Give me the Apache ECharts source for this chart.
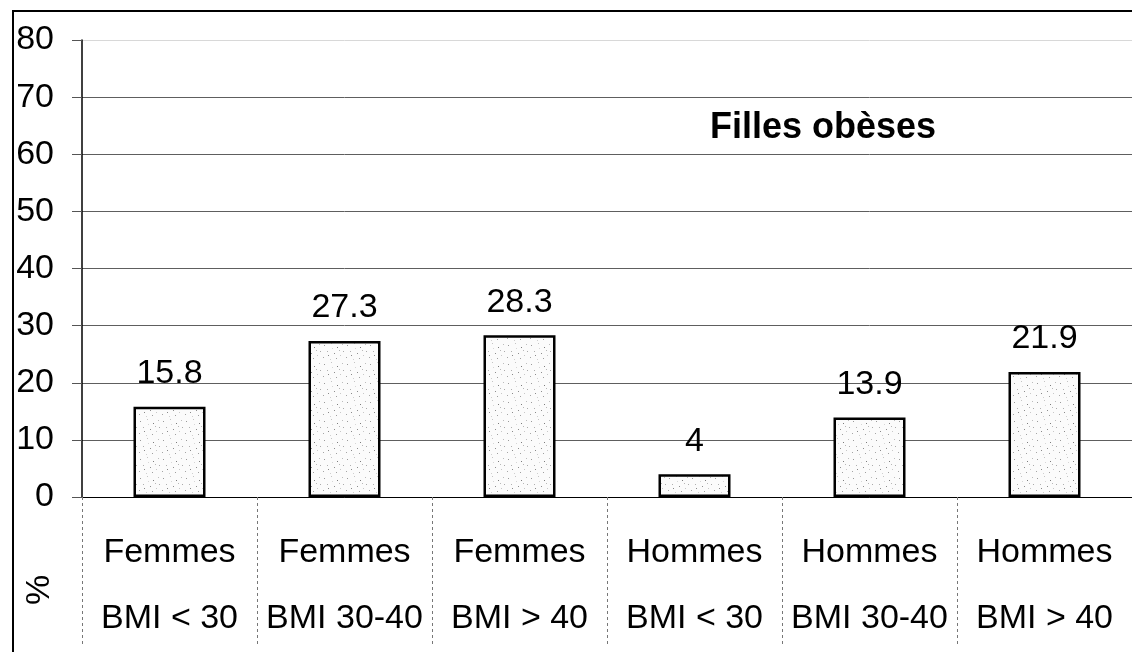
<!DOCTYPE html>
<html>
<head>
<meta charset="utf-8">
<title>Filles obèses</title>
<script src="https://cdn.jsdelivr.net/npm/echarts@6/dist/echarts.min.js"></script>
<style>
  html, body { margin: 0; padding: 0; background: #fff; }
  #chart { width: 1132px; height: 652px; }
</style>
</head>
<body>
<div id="chart"></div>
<script>
// Groups and BMI classes shown on the two lines of each category label
const groups = ['Femmes', 'Femmes', 'Femmes', 'Hommes', 'Hommes', 'Hommes'];
const bmiClasses = ['BMI < 30', 'BMI 30-40', 'BMI > 40', 'BMI < 30', 'BMI 30-40', 'BMI > 40'];
// Percentages per group
const percentages = [15.8, 27.3, 28.3, 4, 13.9, 21.9];
// Value axis ticks
const yTicks = [0, 10, 20, 30, 40, 50, 60, 70, 80];
const titleText = 'Filles obèses';
const unitText = '%';

const categories = groups.map((g, i) => g + '\n' + bmiClasses[i]);

const FONT = '"Liberation Sans", Arial, sans-serif';

// Stippled fill for the bars: a small tile with a few grey specks
function stippleTile() {
  const c = document.createElement('canvas');
  c.width = 23; c.height = 19;
  const ctx = c.getContext('2d');
  ctx.fillStyle = '#fbfbfb';
  ctx.fillRect(0, 0, c.width, c.height);
  const specks = [
    [2, 3, '#9a9a9a'], [9, 1, '#c4c4c4'], [15, 5, '#7d7d7d'], [20, 2, '#bdbdbd'],
    [5, 9, '#b0b0b0'], [12, 11, '#8e8e8e'], [18, 13, '#c8c8c8'], [1, 15, '#a6a6a6'],
    [8, 17, '#d0d0d0'], [14, 16, '#9f9f9f'], [21, 9, '#aaaaaa'], [10, 6, '#d6d6d6'],
    [6, 13, '#8a8a8a'], [17, 8, '#b8b8b8']
  ];
  specks.forEach(([x, y, col]) => { ctx.fillStyle = col; ctx.fillRect(x, y, 1, 1); });
  return c;
}

const chart = echarts.init(document.getElementById('chart'), null, { renderer: 'canvas' });

const gridColors = yTicks.map((t, i) => (i === yTicks.length - 1 ? '#d8d8d8' : '#5e5e5e'));

chart.setOption({
  animation: false,
  backgroundColor: '#fff',
  title: {
    text: titleText,
    left: 705,
    top: 105,
    textStyle: { fontFamily: FONT, fontSize: 36, fontWeight: 'bold', color: '#000' }
  },
  // plot area runs a little past the right edge of the canvas
  grid: { left: 82, top: 40, width: 1062, height: 463, containLabel: false },
  xAxis: {
    type: 'category',
    data: categories,
    axisLine: { show: true, lineStyle: { color: '#000', width: 1 } },
    axisTick: {
      show: true, interval: 0, length: 150, alignWithLabel: false,
      lineStyle: { color: '#777', width: 1, type: [3, 3] }
    },
    axisLabel: {
      interval: 0, margin: 23, color: '#000',
      fontFamily: FONT, fontSize: 34, lineHeight: 66
    },
    splitLine: { show: false }
  },
  yAxis: {
    type: 'value',
    min: 0, max: 80, interval: 10,
    axisLine: { show: true, lineStyle: { color: '#000', width: 1.5 } },
    axisTick: { show: true, length: 10, lineStyle: { color: '#555' } },
    axisLabel: {
      margin: 28, color: '#000', fontFamily: FONT, fontSize: 34,
      formatter: v => (yTicks.includes(v) ? String(v) : '')
    },
    splitLine: { show: true, lineStyle: { color: gridColors, width: 1 } }
  },
  series: [{
    type: 'bar',
    data: percentages,
    barWidth: 72,
    itemStyle: {
      color: { image: stippleTile(), repeat: 'repeat' },
      borderColor: '#000',
      borderWidth: 2.5
    },
    label: {
      show: true, position: 'top', distance: 16, color: '#000',
      fontFamily: FONT, fontSize: 34
    }
  }],
  graphic: [
    {
      type: 'polyline',
      shape: { points: [[13, 652], [13, 11], [1132, 11]] },
      style: { stroke: '#000', lineWidth: 2, fill: null }
    },
    {
      type: 'text',
      x: 40, y: 590,
      rotation: Math.PI / 2,
      style: {
        text: unitText, fill: '#000', font: '34px ' + FONT,
        textAlign: 'center', textVerticalAlign: 'middle'
      }
    }
  ]
});
</script>
</body>
</html>
